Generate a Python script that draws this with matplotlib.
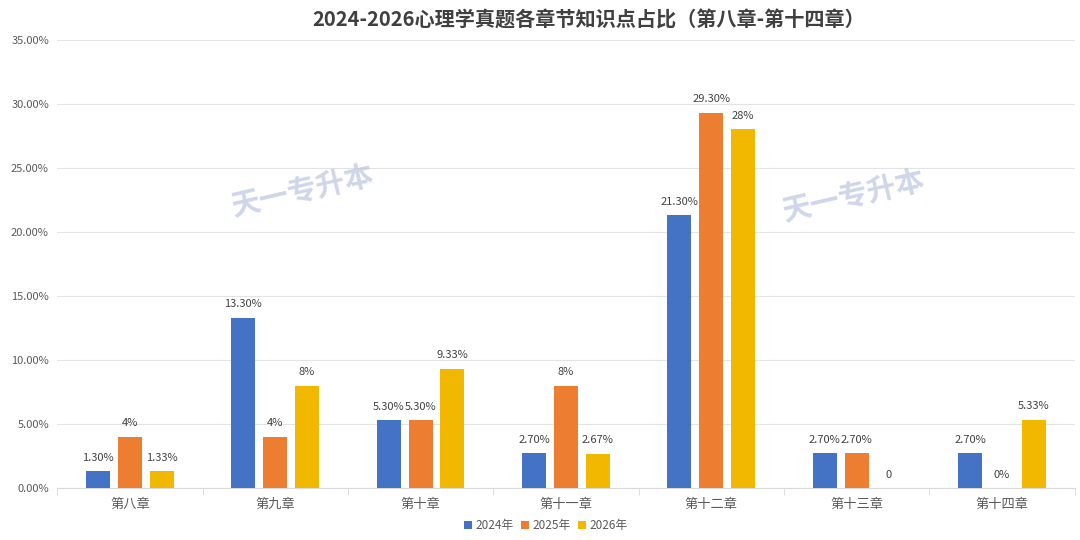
import numpy as np
import matplotlib.pyplot as plt
from matplotlib.ticker import FuncFormatter

plt.rcParams['font.family'] = ['Noto Sans CJK SC', 'DejaVu Sans']

# chapters and yearly shares (%)
chapters = ['第八章', '第九章', '第十章', '第十一章', '第十二章', '第十三章', '第十四章']
years = ['2024年', '2025年', '2026年']
vals_2024 = [1.3, 13.3, 5.3, 2.7, 21.3, 2.7, 2.7]
vals_2025 = [4, 4, 5.3, 8, 29.3, 2.7, 0]
vals_2026 = [1.33, 8, 9.33, 2.67, 28, 0, 5.33]
# data labels as printed on the chart
labels_2024 = ['1.30%', '13.30%', '5.30%', '2.70%', '21.30%', '2.70%', '2.70%']
labels_2025 = ['4%', '4%', '5.30%', '8%', '29.30%', '2.70%', '0%']
labels_2026 = ['1.33%', '8%', '9.33%', '2.67%', '28%', '0', '5.33%']

colors = ['#4472C4', '#ED7D31', '#F2B800']

fig = plt.figure(figsize=(10.8, 5.4), dpi=100)
ax = fig.add_axes([0.053, 0.0963, 0.942, 0.83])

x = np.arange(len(chapters))
width = 0.165
offset = 0.219
series = [(vals_2024, labels_2024), (vals_2025, labels_2025), (vals_2026, labels_2026)]
for i, (vals, labs) in enumerate(series):
    pos = x + (i - 1) * offset
    ax.bar(pos, vals, width=width, color=colors[i], label=years[i], zorder=3)
    for px, v, lab in zip(pos, vals, labs):
        ax.annotate(lab, xy=(px, v), xytext=(0, 6), textcoords='offset points',
                    ha='center', va='bottom', fontsize=8, color='#404040')

ax.set_xlim(-0.5, len(chapters) - 0.5)
ax.set_ylim(0, 35)
ax.set_yticks(np.arange(0, 36, 5))
ax.yaxis.set_major_formatter(FuncFormatter(lambda v, p: '%.2f%%' % v))
ax.grid(axis='y', color='#e3e3e3', linewidth=0.8, zorder=0)

ax.set_xticks(x)
ax.set_xticklabels(chapters, fontsize=9.5, color='#595959')
ax.set_xticks(np.arange(-0.5, len(chapters), 1), minor=True)
ax.tick_params(axis='x', which='major', length=0, pad=7)
ax.tick_params(axis='x', which='minor', length=5, color='#d9d9d9')
ax.tick_params(axis='y', length=0, labelsize=8, labelcolor='#595959', pad=6)

for s in ['top', 'right', 'left']:
    ax.spines[s].set_visible(False)
ax.spines['bottom'].set_color('#d9d9d9')

fig.suptitle('2024-2026心理学真题各章节知识点占比（第八章-第十四章）', x=0.545, y=0.983,
             fontsize=14.5, fontweight='bold', color='#404040')

ax.legend(loc='upper center', bbox_to_anchor=(0.48, -0.045), ncol=3, frameon=False,
          fontsize=8.5, handlelength=0.7, handleheight=0.7, handletextpad=0.3,
          columnspacing=0.6, labelcolor='#595959')

# faint watermark
for wx, wy in [(0.28, 0.645), (0.79, 0.635)]:
    fig.text(wx, wy, '天一专升本', fontsize=21, fontweight='bold', color='#b5c0dd',
             alpha=0.65, rotation=13, ha='center', va='center', zorder=5)

fig.savefig('out.png', dpi=100)
